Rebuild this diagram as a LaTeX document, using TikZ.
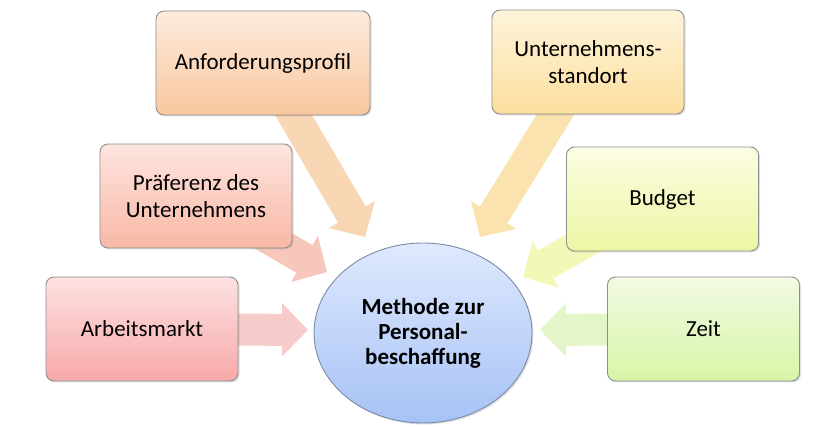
\documentclass[tikz,border=0pt]{standalone}
\usepackage{fontspec}
\setmainfont{Carlito}
\usetikzlibrary{arrows.meta,shapes.geometric,shadows}
\definecolor{bordergrey}{HTML}{8E8E8E}
\definecolor{circborder}{HTML}{7A8BA8}
\definecolor{anfT}{HTML}{FDEBDD}\definecolor{anfB}{HTML}{F9C79E}
\definecolor{praT}{HTML}{FDE4DF}\definecolor{praB}{HTML}{F9B8A6}
\definecolor{arbT}{HTML}{FDE1E1}\definecolor{arbB}{HTML}{F8A9A9}
\definecolor{untT}{HTML}{FEF4DB}\definecolor{untB}{HTML}{FCDF9E}
\definecolor{budT}{HTML}{FBFDE2}\definecolor{budB}{HTML}{EEF6A4}
\definecolor{zeiT}{HTML}{F2FAE4}\definecolor{zeiB}{HTML}{D8F5A6}
\definecolor{cirT}{HTML}{DFE9FE}\definecolor{cirB}{HTML}{A6C2F5}
\definecolor{anfA}{HTML}{F9D6B4}
\definecolor{praA}{HTML}{F7C7BC}
\definecolor{arbA}{HTML}{F8CBCB}
\definecolor{untA}{HTML}{FBE3AF}
\definecolor{budA}{HTML}{F3F7B8}
\definecolor{zeiA}{HTML}{E4F6C8}
\tikzset{
  infobox/.style={draw=bordergrey, line width=0.9pt, rounded corners=8pt,
    minimum width=192pt, minimum height=104pt, align=center, inner sep=2pt,
    font=\fontsize{23}{27}\selectfont,
    drop shadow={opacity=0.25, shadow xshift=1.5pt, shadow yshift=-1.5pt}},
  blockarrow/.style={line width=32pt, -{Triangle[width=52pt,length=26pt]}},
  centre/.style={ellipse, draw=circborder, line width=0.9pt,
    minimum width=218pt, minimum height=180pt, align=center, inner sep=0pt,
    top color=cirT, bottom color=cirB,
    font=\bfseries\fontsize{23}{25}\selectfont,
    drop shadow={opacity=0.25, shadow xshift=1.5pt, shadow yshift=-1.5pt}}
}
\begin{document}
\begin{tikzpicture}[x=1pt,y=-1pt]
\useasboundingbox (0,0) rectangle (836,427);
% box positions (coordinates only, for arrow start points)
\coordinate (c-anf) at (263,63);
\coordinate (c-unt) at (588,62);
\coordinate (c-pra) at (196,196);
\coordinate (c-bud) at (662.5,199);
\coordinate (c-arb) at (142,329);
\coordinate (c-zei) at (703.5,329);
% arrow tips
\coordinate (t-anf) at (365,237);
\coordinate (t-unt) at (480,237);
\coordinate (t-pra) at (327,272);
\coordinate (t-bud) at (523,277);
\coordinate (t-arb) at (308,330);
\coordinate (t-zei) at (540,330);
% arrows
\draw[blockarrow, draw=anfA] (c-anf) -- (t-anf);
\draw[blockarrow, draw=untA] (c-unt) -- (t-unt);
\draw[blockarrow, draw=praA] (c-pra) -- (t-pra);
\draw[blockarrow, draw=budA] (c-bud) -- (t-bud);
\draw[blockarrow, draw=arbA] (c-arb) -- (t-arb);
\draw[blockarrow, draw=zeiA] (c-zei) -- (t-zei);
% boxes
\node[infobox, minimum width=214pt, top color=anfT, bottom color=anfB] (anf) at (c-anf) {Anforderungsprofil};
\node[infobox, top color=untT, bottom color=untB] (unt) at (c-unt) {Unternehmens-\\standort};
\node[infobox, top color=praT, bottom color=praB] (pra) at (c-pra) {Präferenz des\\Unternehmens};
\node[infobox, top color=budT, bottom color=budB] (bud) at (c-bud) {Budget};
\node[infobox, top color=arbT, bottom color=arbB] (arb) at (c-arb) {Arbeitsmarkt};
\node[infobox, top color=zeiT, bottom color=zeiB] (zei) at (c-zei) {Zeit};
% centre
\node[centre] (mid) at (423,333) {Methode zur\\Personal-\\beschaffung};
\end{tikzpicture}
\end{document}
